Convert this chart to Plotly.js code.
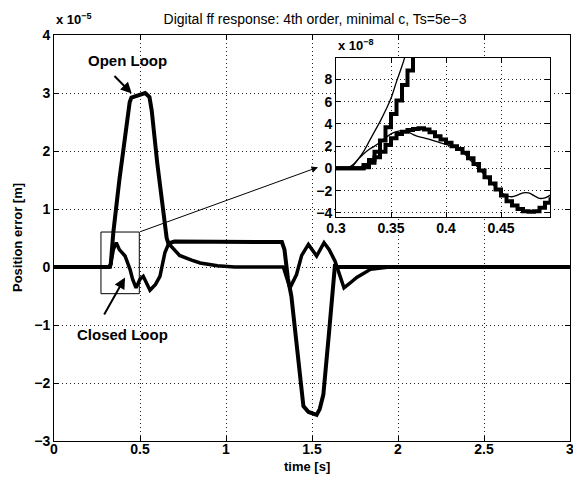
<!DOCTYPE html>
<html><head><meta charset="utf-8">
<script src="https://cdn.plot.ly/plotly-3.0.1.min.js"></script>
<style>html,body{margin:0;padding:0;background:#fff}</style>
</head><body><div id="chart" style="width:573px;height:479px"></div>
<script>
// ---- main plot data (position error, units of 1e-5 m) ----
const olTime = [0, 0.32, 0.33, 0.345, 0.38, 0.41, 0.44, 0.45, 0.5, 0.53, 0.555, 0.568, 0.6, 0.63, 0.655, 0.67, 0.68, 0.7, 1.0, 1.3, 1.325, 1.34, 1.36, 1.38, 1.42, 1.45, 1.48, 1.527, 1.545, 1.566, 1.6, 1.634, 1.645, 3.0];
const olError = [0, 0, 0.05, 0.6, 1.5, 2.2, 2.84, 2.92, 2.97, 3.0, 2.93, 2.7, 1.8, 1.1, 0.5, 0.36, 0.42, 0.44, 0.44, 0.44, 0.43, 0.3, -0.2, -0.5, -1.6, -2.4, -2.5, -2.55, -2.45, -2.2, -1.1, 0.05, 0, 0];
const clTime = [0, 0.327, 0.345, 0.362, 0.38, 0.413, 0.442, 0.457, 0.477, 0.5, 0.519, 0.558, 0.59, 0.616, 0.645, 0.665, 0.68, 0.73, 0.8, 0.85, 0.95, 1.05, 1.333, 1.372, 1.41, 1.44, 1.479, 1.527, 1.57, 1.6, 1.634, 1.686, 1.72, 1.76, 1.84, 1.95, 3.0];
const clError = [0, 0, 0.3, 0.42, 0.3, 0.19, -0.04, -0.21, -0.36, -0.21, -0.16, -0.4, -0.3, -0.16, 0.25, 0.39, 0.36, 0.2, 0.12, 0.07, 0.02, 0, 0, -0.36, -0.13, 0.2, 0.39, 0.19, 0.42, 0.3, 0.1, -0.36, -0.28, -0.18, -0.04, 0, 0];

// ---- inset data (units of 1e-8 m), samples every Ts = 5e-3 ----
const insetTime = [0.300, 0.305, 0.310, 0.315, 0.320, 0.325, 0.330, 0.335, 0.340, 0.345, 0.350, 0.355, 0.360, 0.365, 0.370, 0.375, 0.380, 0.385, 0.390, 0.395, 0.400, 0.405, 0.410, 0.415, 0.420, 0.425, 0.430, 0.435, 0.440, 0.445, 0.450, 0.455, 0.460, 0.465, 0.470, 0.475, 0.480, 0.485, 0.490, 0.495];
const olDigital = [0, 0, 0, 0, 0, 0.3, 0.75, 1.5, 2.5, 3.7, 4.9, 6.1, 7.5, 8.8, 10.5, 12.5];
const olContinuous = [0, 0, 0, 0.2, 0.8, 1.5, 2.4, 3.3, 4.2, 5.2, 6.3, 7.8, 9.2, 10.8, 12.5];
const clDigital = [0, 0, 0, 0, 0, 0.1, 0.5, 1.0, 1.5, 2.1, 2.7, 3.1, 3.3, 3.45, 3.55, 3.6, 3.5, 3.25, 2.9, 2.6, 2.3, 2.0, 1.75, 1.4, 0.9, 0.4, -0.2, -0.8, -1.35, -1.9, -2.45, -2.95, -3.35, -3.65, -3.85, -3.9, -3.85, -3.55, -3.1, -2.6];
const clContinuous = [0, 0, 0, 0.3, 0.8, 1.3, 1.7, 2.0, 2.35, 2.75, 3.1, 3.3, 3.4, 3.3, 3.05, 2.85, 2.75, 2.6, 2.45, 2.3, 2.15, 2.0, 1.8, 1.5, 0.95, 0.45, 0.0, -0.6, -1.15, -1.7, -2.15, -2.45, -2.55, -2.4, -2.2, -2.2, -2.45, -2.7, -2.65, -2.4];

// ---- ticks ----
const mainXTicks = [0, 0.5, 1, 1.5, 2, 2.5, 3];
const mainXTickText = ['0', '0.5', '1', '1.5', '2', '2.5', '3'];
const mainYTicks = [-3, -2, -1, 0, 1, 2, 3, 4];
const insetXTicks = [0.3, 0.35, 0.4, 0.45];
const insetXTickText = ['0.3', '0.35', '0.4', '0.45'];
const insetYTicks = [-4, -2, 0, 2, 4, 6, 8];

const FONT = 'Liberation Sans, Arial, Helvetica, sans-serif';
const tickFont = {family: FONT, size: 14, color: '#000', weight: 700};
const labelFont = {family: FONT, size: 13, color: '#000', weight: 700};

const traces = [
  {x: olTime, y: olError, type: 'scatter', mode: 'lines', line: {color: '#000', width: 4}, xaxis: 'x', yaxis: 'y', hoverinfo: 'skip'},
  {x: clTime, y: clError, type: 'scatter', mode: 'lines', line: {color: '#000', width: 3.5}, xaxis: 'x', yaxis: 'y', hoverinfo: 'skip'},
  {x: insetTime.slice(0, olContinuous.length), y: olContinuous, type: 'scatter', mode: 'lines', line: {color: '#000', width: 1.3, shape: 'spline'}, xaxis: 'x2', yaxis: 'y2'},
  {x: insetTime.slice(0, olDigital.length), y: olDigital, type: 'scatter', mode: 'lines', line: {color: '#000', width: 4, shape: 'hv'}, xaxis: 'x2', yaxis: 'y2'},
  {x: insetTime, y: clContinuous, type: 'scatter', mode: 'lines', line: {color: '#000', width: 1.3, shape: 'spline'}, xaxis: 'x2', yaxis: 'y2'},
  {x: insetTime, y: clDigital, type: 'scatter', mode: 'lines', line: {color: '#000', width: 4, shape: 'hv'}, xaxis: 'x2', yaxis: 'y2'}
];

const axisCommon = {
  showline: true, linecolor: '#000', linewidth: 1, mirror: 'ticks',
  ticks: 'inside', ticklen: 5, tickcolor: '#000', tickwidth: 1,
  showgrid: true, gridcolor: '#222', gridwidth: 1, griddash: '1px,3px',
  zeroline: false, tickfont: tickFont, fixedrange: true, ticklabeloverflow: 'allow'
};

const layout = {
  width: 573, height: 479,
  margin: {l: 54, r: 3, t: 35, b: 38},
  paper_bgcolor: '#fff', plot_bgcolor: '#fff',
  showlegend: false,
  title: {text: 'Digital ff response: 4th order, minimal c, Ts=5e\u22123', font: {family: FONT, size: 14, color: '#000'}, x: 0.506, xref: 'paper', y: 1 - 19/479, yref: 'container', yanchor: 'middle'},
  xaxis: Object.assign({}, axisCommon, {domain: [0, 1], range: [0, 3], tickvals: mainXTicks, ticktext: mainXTickText, anchor: 'y', ticklabelstandoff: -5}),
  yaxis: Object.assign({}, axisCommon, {domain: [0, 1], range: [-3, 4], tickvals: mainYTicks, anchor: 'x'}),
  xaxis2: Object.assign({}, axisCommon, {domain: [0.5465, 0.9612], range: [0.3, 0.4945], tickvals: insetXTicks, ticktext: insetXTickText, anchor: 'y2', ticklabelstandoff: -2}),
  yaxis2: Object.assign({}, axisCommon, {domain: [0.551, 0.944], range: [-4.4, 9.95], tickvals: insetYTicks, anchor: 'x2'}),
  shapes: [
    {type: 'rect', xref: 'x', yref: 'y', x0: 0.273, x1: 0.496, y0: -0.46, y1: 0.603, line: {color: '#000', width: 1}, layer: 'above'}
  ],
  annotations: [
    {xref: 'paper', yref: 'paper', x: 0.49, y: 0, xanchor: 'center', yanchor: 'middle', yshift: -25, showarrow: false,
     text: 'time [s]', font: labelFont},
    {xref: 'paper', yref: 'paper', x: 0, y: 0.5, xanchor: 'center', yanchor: 'middle', xshift: -37, showarrow: false, textangle: -90,
     text: 'Position error [m]', font: labelFont},
    {xref: 'paper', yref: 'paper', x: 0.0, y: 1.0, xanchor: 'left', yanchor: 'bottom', yshift: 6, showarrow: false,
     text: 'x 10<sup>\u22125</sup>', font: labelFont},
    {xref: 'paper', yref: 'paper', x: 0.5465, y: 0.944, xanchor: 'left', yanchor: 'bottom', yshift: 3, showarrow: false,
     text: 'x 10<sup>\u22128</sup>', font: labelFont},
    {xref: 'x', yref: 'y', x: 0.43, y: 3.555, showarrow: false, text: 'Open Loop', font: {family: FONT, size: 15, color: '#000', weight: 700}},
    {xref: 'x', yref: 'y', x: 0.452, y: 2.99, axref: 'x', ayref: 'y', ax: 0.343, ay: 3.32, text: '', showarrow: true, arrowhead: 2, arrowsize: 1.1, arrowwidth: 2, arrowcolor: '#000', standoff: 0},
    {xref: 'x', yref: 'y', x: 0.401, y: -1.16, showarrow: false, text: 'Closed Loop', font: {family: FONT, size: 15, color: '#000', weight: 700}},
    {xref: 'x', yref: 'y', x: 0.413, y: -0.183, axref: 'x', ayref: 'y', ax: 0.287, ay: -0.845, text: '', showarrow: true, arrowhead: 2, arrowsize: 1.1, arrowwidth: 2, arrowcolor: '#000', standoff: 0},
    {xref: 'x', yref: 'y', x: 1.535, y: 1.72, axref: 'x', ayref: 'y', ax: 0.496, ay: 0.603, text: '', showarrow: true, arrowhead: 2, arrowsize: 1.3, arrowwidth: 1, arrowcolor: '#000', standoff: 0}
  ]
};

Plotly.newPlot('chart', traces, layout, {staticPlot: true, displayModeBar: false});
</script></body></html>
